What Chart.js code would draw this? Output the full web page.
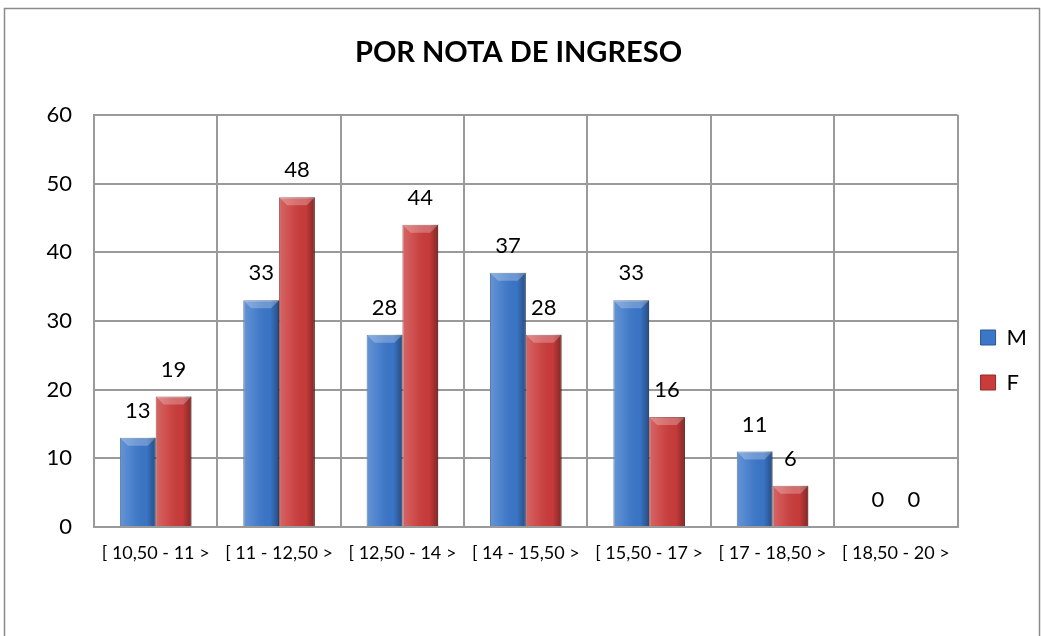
<!DOCTYPE html>
<html>
<head>
<meta charset="utf-8">
<script src="https://cdn.jsdelivr.net/npm/chart.js@4/dist/chart.umd.min.js"></script>
<style>
  html, body { margin: 0; padding: 0; background: #fff; }
  #wrap { width: 1043px; height: 636px; position: relative; }
</style>
</head>
<body>
<div id="wrap"><canvas id="chart" width="1043" height="636"></canvas></div>
<script>
// rangos de nota de ingreso
const categories = ['[ 10,50 - 11 >', '[ 11 - 12,50 >', '[ 12,50 - 14 >', '[ 14 - 15,50 >', '[ 15,50 - 17 >', '[ 17 - 18,50 >', '[ 18,50 - 20 >'];
const masculino = [13, 33, 28, 37, 33, 11, 0];
const femenino = [19, 48, 44, 28, 16, 6, 0];
const yTicks = [0, 10, 20, 30, 40, 50, 60];

const FONT = 'Lato, "Open Sans", sans-serif';

// marco exterior del grafico
const frame = {
  id: 'frame',
  beforeDraw(chart) {
    const c = chart.ctx;
    c.save();
    c.strokeStyle = '#8a8a8a';
    c.lineWidth = 1.5;
    c.strokeRect(4.5, 8.5, 1035, 700);
    c.restore();
  }
};

// brillo tipo cilindro sobre cada barra
const shade = {
  id: 'shade',
  afterDatasetDraw(chart, args) {
    const c = chart.ctx;
    const meta = args.meta;
    meta.data.forEach(bar => {
      const p = bar.getProps(['x', 'y', 'base', 'width'], true);
      const h = p.base - p.y;
      if (h <= 0) return;
      const l = p.x - p.width / 2;
      const g = c.createLinearGradient(l, 0, l + p.width, 0);
      g.addColorStop(0, 'rgba(255,255,255,0.22)');
      g.addColorStop(0.35, 'rgba(255,255,255,0.08)');
      g.addColorStop(0.75, 'rgba(0,0,0,0.02)');
      g.addColorStop(1, 'rgba(0,0,0,0.35)');
      c.save();
      c.fillStyle = g;
      c.fillRect(l, p.y, p.width, h);
      // bisel superior
      const b = Math.min(8, h / 2);
      c.fillStyle = 'rgba(255,255,255,0.25)';
      c.beginPath();
      c.moveTo(l, p.y);
      c.lineTo(l + p.width, p.y);
      c.lineTo(l + p.width - b, p.y + b);
      c.lineTo(l + b, p.y + b);
      c.closePath();
      c.fill();
      c.restore();
    });
  }
};

// etiquetas de valor encima de las barras
const valueLabels = {
  id: 'valueLabels',
  afterDatasetsDraw(chart) {
    const c = chart.ctx;
    c.save();
    c.font = '22px ' + FONT;
    c.fillStyle = '#000';
    c.textAlign = 'center';
    c.textBaseline = 'middle';
    chart.data.datasets.forEach((ds, i) => {
      chart.getDatasetMeta(i).data.forEach((bar, j) => {
        c.fillText(String(ds.data[j]), bar.x, bar.y - 27);
      });
    });
    c.restore();
  }
};

const ctx = document.getElementById('chart').getContext('2d');
new Chart(ctx, {
  type: 'bar',
  data: {
    labels: categories,
    datasets: [
      { label: 'M', data: masculino, backgroundColor: '#3b76c8', borderColor: '#2d5690', borderWidth: 1 },
      { label: 'F', data: femenino, backgroundColor: '#c93c3b', borderColor: '#8e2b2a', borderWidth: 1 }
    ]
  },
  options: {
    responsive: false,
    animation: false,
    layout: { padding: { left: 0, top: 30, right: 6, bottom: 0 } },
    datasets: { bar: { categoryPercentage: 0.58, barPercentage: 1 } },
    scales: {
      x: {
        grid: { color: '#9a9a9a', lineWidth: 2, drawTicks: false, offset: true },
        border: { color: '#9a9a9a', width: 2 },
        ticks: { color: '#000', font: { family: FONT, size: 18 }, padding: 15, maxRotation: 0, autoSkip: false },
        afterFit(s) { s.height = 109; }
      },
      y: {
        min: 0, max: 60,
        afterBuildTicks(s) { s.ticks = yTicks.map(v => ({ value: v })); },
        grid: { color: '#9a9a9a', lineWidth: 2, drawTicks: false },
        border: { color: '#9a9a9a', width: 2 },
        ticks: { color: '#000', font: { family: FONT, size: 22 }, padding: 22 },
        afterFit(s) { s.width = 94; }
      }
    },
    plugins: {
      title: {
        display: true,
        text: 'POR NOTA DE INGRESO',
        color: '#000',
        font: { family: FONT, size: 29, weight: 'bold' },
        padding: { top: 5, bottom: 45 }
      },
      legend: {
        position: 'right',
        title: { display: true, text: ' ', color: 'rgba(0,0,0,0)', font: { size: 20 }, padding: { top: 15, bottom: 15 } },
        labels: { color: '#000', font: { family: FONT, size: 22 }, boxWidth: 15, boxHeight: 15, padding: 23 }
      },
      tooltip: { enabled: false }
    }
  },
  plugins: [frame, shade, valueLabels]
});
</script>
</body>
</html>
